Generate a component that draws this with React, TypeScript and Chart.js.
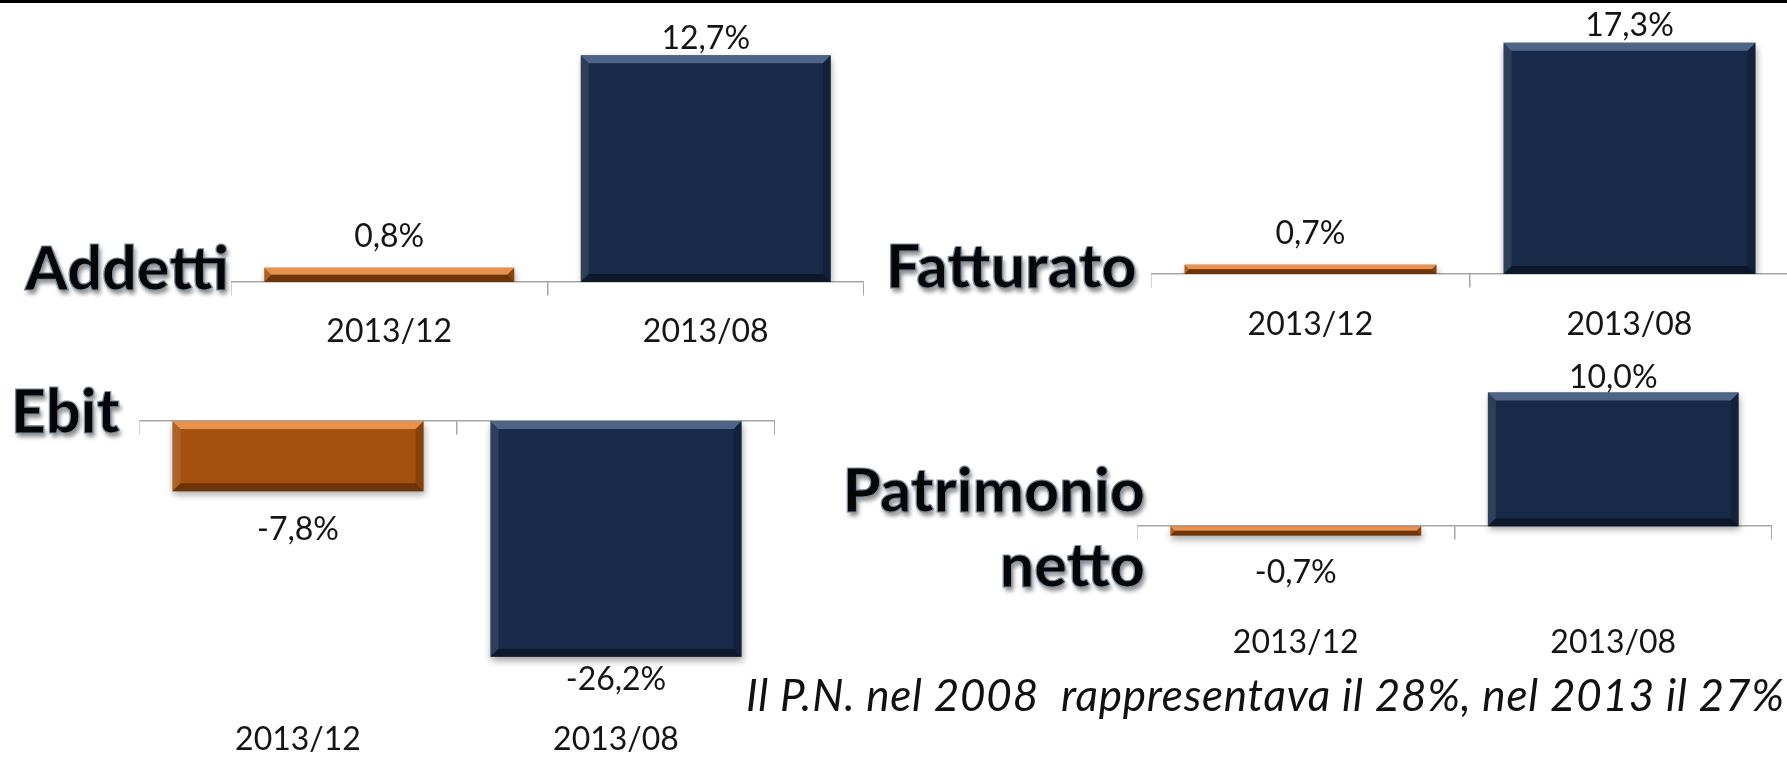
import React, { useEffect, useRef } from 'react';
import { Chart, registerables } from 'chart.js';

Chart.register(...registerables);

// ---------- data ----------
const categories = ['2013/12', '2013/08'];
const addettiValues = [0.8, 12.7];
const fatturatoValues = [0.7, 17.3];
const ebitValues = [-7.8, -26.2];
const patrimonioValues = [-0.7, 10.0];
const footnoteText = 'Il P.N. nel 2008  rappresentava il 28%, nel 2013 il 27%';

// ---------- styles ----------
const barColors = ['#A4510F', '#172A48'];
const bevelLight = ['rgba(236,150,84,0.95)', 'rgba(88,112,148,0.85)'];
const bevelDark = ['rgba(95,45,8,0.8)', 'rgba(10,18,32,0.7)'];
const axisColor = '#a6a6a6';
const textColor = '#151515';
const FONT = 'Lato, "Open Sans", sans-serif';

type Panel = {
  values: number[];
  left: number;
  top: number;
  width: number;
  height: number;
  padTop: number;
  yMin: number;
  yMax: number;
  labelPad: number;
  gaps: number[];
};

const panels: Panel[] = [
  { values: addettiValues, left: 231, top: 0, width: 633, height: 381, padTop: 32, yMin: 0, yMax: 14, labelPad: 30.3, gaps: [32, 17.5] },
  { values: fatturatoValues, left: 1151, top: 0, width: 638, height: 376, padTop: 20, yMin: 0, yMax: 19, labelPad: 31.8, gaps: [32, 18] },
  { values: ebitValues, left: 139, top: 380, width: 636, height: 427, padTop: 41, yMin: -28, yMax: 0, labelPad: 47.8, gaps: [37, 22] },
  { values: patrimonioValues, left: 1137, top: 340, width: 635, height: 352, padTop: 39, yMin: -5, yMax: 11, labelPad: 30.3, gaps: [36, 16] },
];

const fmt = (v: number) => v.toFixed(1).replace('.', ',') + '%';

const barDecor = {
  id: 'barDecor',
  beforeDatasetsDraw(chart: any) {
    const ctx = chart.ctx;
    ctx.save();
    ctx.shadowColor = 'rgba(0,0,0,0.35)';
    ctx.shadowBlur = 7;
    ctx.shadowOffsetX = 1;
    ctx.shadowOffsetY = 4;
  },
  afterDatasetsDraw(chart: any, _args: any, opts: any) {
    const ctx = chart.ctx;
    ctx.restore();
    const meta = chart.getDatasetMeta(0);
    const values = chart.data.datasets[0].data as number[];
    meta.data.forEach((el: any, i: number) => {
      const { x, y, base, width } = el.getProps(['x', 'y', 'base', 'width'], true);
      const l = x - width / 2;
      const r = x + width / 2;
      const t = Math.min(y, base);
      const b = Math.max(y, base);
      const h = b - t;
      const bv = Math.min(8, h / 2);
      ctx.save();
      // top bevel
      ctx.fillStyle = bevelLight[i];
      ctx.beginPath();
      ctx.moveTo(l, t);
      ctx.lineTo(r, t);
      ctx.lineTo(r - bv, t + bv);
      ctx.lineTo(l + bv, t + bv);
      ctx.closePath();
      ctx.fill();
      // bottom bevel
      ctx.fillStyle = bevelDark[i];
      ctx.beginPath();
      ctx.moveTo(l, b);
      ctx.lineTo(r, b);
      ctx.lineTo(r - bv, b - bv);
      ctx.lineTo(l + bv, b - bv);
      ctx.closePath();
      ctx.fill();
      // left / right bevel
      ctx.fillStyle = 'rgba(255,255,255,0.10)';
      ctx.beginPath();
      ctx.moveTo(l, t);
      ctx.lineTo(l + bv, t + bv);
      ctx.lineTo(l + bv, b - bv);
      ctx.lineTo(l, b);
      ctx.closePath();
      ctx.fill();
      ctx.fillStyle = 'rgba(0,0,0,0.18)';
      ctx.beginPath();
      ctx.moveTo(r, t);
      ctx.lineTo(r - bv, t + bv);
      ctx.lineTo(r - bv, b - bv);
      ctx.lineTo(r, b);
      ctx.closePath();
      ctx.fill();
      // value label
      const v = values[i];
      const gap = opts.gaps[i];
      const cy = v >= 0 ? y - gap : y + gap;
      const fs = 32;
      ctx.font = `${fs}px ${FONT}`;
      ctx.fillStyle = textColor;
      ctx.textAlign = 'center';
      ctx.textBaseline = 'alphabetic';
      ctx.fillText(fmt(v), x, cy + 0.358 * fs);
      ctx.restore();
    });
  },
};

function BarPanel({ p }: { p: Panel }) {
  const ref = useRef<HTMLCanvasElement>(null);
  useEffect(() => {
    const chart = new Chart(ref.current as HTMLCanvasElement, {
      type: 'bar',
      data: {
        labels: categories,
        datasets: [
          {
            data: p.values,
            backgroundColor: barColors,
            borderWidth: 0,
            barPercentage: 0.79,
            categoryPercentage: 1,
            xAxisID: 'x',
            yAxisID: 'y',
          },
        ],
      },
      options: {
        responsive: false,
        animation: false,
        events: [],
        layout: { padding: { top: p.padTop, left: 0, right: 0, bottom: 0 } },
        scales: {
          y: { type: 'linear', display: false, min: p.yMin, max: p.yMax },
          x: {
            type: 'category',
            position: { y: 0 } as any,
            offset: true,
            grid: {
              display: true,
              offset: true,
              drawOnChartArea: false,
              drawTicks: true,
              tickLength: 13,
              color: axisColor,
              lineWidth: 1.5,
            },
            border: { display: true, color: axisColor, width: 1.5 },
            ticks: { display: false },
          },
          x2: {
            type: 'category',
            position: 'bottom',
            offset: true,
            grid: { display: false, drawTicks: false },
            border: { display: false },
            ticks: {
              padding: p.labelPad,
              color: textColor,
              font: { family: FONT, size: 32 },
              maxRotation: 0,
              autoSkip: false,
            },
          },
        },
        plugins: {
          legend: { display: false },
          tooltip: { enabled: false },
          barDecor: { gaps: p.gaps },
        } as any,
      },
      plugins: [barDecor],
    } as any);
    return () => chart.destroy();
  }, []);
  return (
    <canvas
      ref={ref}
      width={p.width}
      height={p.height}
      style={{ position: 'absolute', left: p.left, top: p.top, width: p.width, height: p.height }}
    />
  );
}

const titleStyle: React.CSSProperties = {
  position: 'absolute',
  fontFamily: FONT,
  fontWeight: 900,
  fontSize: 61,
  lineHeight: '61px',
  color: '#060606',
  WebkitTextStroke: '1.2px #7a8ea3',
  textShadow: '2px 4px 4px rgba(0,0,0,0.45)',
  whiteSpace: 'nowrap',
};

export default function App() {
  return (
    <div
      style={{
        position: 'absolute',
        left: 0,
        top: 0,
        width: 1787,
        height: 765,
        overflow: 'hidden',
        background: '#ffffff',
      }}
    >
      <div style={{ position: 'absolute', left: 0, top: 0, width: 1787, height: 3, background: '#000' }} />
      {panels.map((p, i) => (
        <BarPanel key={i} p={p} />
      ))}
      <div style={{ ...titleStyle, left: 25, top: 236 }}>Addetti</div>
      <div style={{ ...titleStyle, left: 886, top: 234 }}>Fatturato</div>
      <div style={{ ...titleStyle, left: 11, top: 379 }}>Ebit</div>
      <div style={{ ...titleStyle, right: 1787 - 1145, top: 451, lineHeight: '75px', textAlign: 'right' }}>
        Patrimonio
        <br />
        netto
      </div>
      <div
        style={{
          position: 'absolute',
          left: 746,
          top: 672,
          fontFamily: FONT,
          fontStyle: 'italic',
          fontSize: 44,
          lineHeight: '44px',
          letterSpacing: '0.75px',
          color: '#111',
          whiteSpace: 'pre',
        }}
      >
        {footnoteText}
      </div>
    </div>
  );
}
